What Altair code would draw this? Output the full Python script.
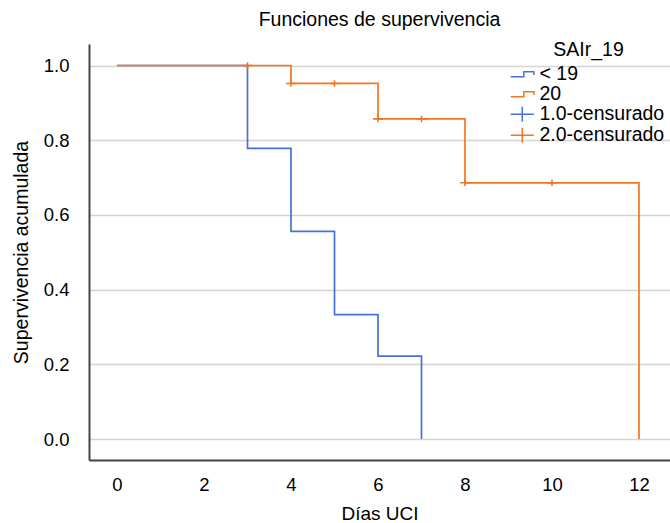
import altair as alt
import pandas as pd

# ---- data ----
legend_items = ["< 19", "20", "1.0-censurado", "2.0-censurado"]
legend_colors = ["#4472d8", "#f5761f", "#4472d8", "#f5761f"]

t_lt19 = [0, 3, 4, 5, 6, 7]
s_lt19 = [1.0, 0.778, 0.556, 0.333, 0.222, 0.0]

t_20 = [0, 4, 6, 8, 12]
s_20 = [1.0, 0.952, 0.857, 0.686, 0.0]

cens_t_20 = [3, 4, 5, 6, 7, 8, 10]
cens_s_20 = [1.0, 0.952, 0.952, 0.857, 0.857, 0.686, 0.686]

x_ticks = [0, 2, 4, 6, 8, 10, 12]
y_ticks = [0.0, 0.2, 0.4, 0.6, 0.8, 1.0]

# ---- tables ----
df_lt19 = pd.DataFrame({"t": t_lt19, "s": s_lt19, "serie": "< 19"})
df_20 = pd.DataFrame({"t": t_20, "s": s_20, "serie": "20"})
df_cens = pd.DataFrame({"t": cens_t_20, "s": cens_s_20, "serie": "2.0-censurado"})

FONT = "Liberation Sans"
step_path = "M-1.45,0.3H0.2V-0.3H1.45V0.1"
cross_path = "M-1.45,0H1.45M0,-0.95V0.95"
shape_range = [step_path, step_path, cross_path, cross_path]

x_enc = alt.X("t:Q", title="Días UCI",
              scale=alt.Scale(domain=[-0.644, 12.713], nice=False, zero=False),
              axis=alt.Axis(values=x_ticks, format="d", grid=False, ticks=False,
                            labelPadding=15, titlePadding=11, titleFontSize=19))
y_enc = alt.Y("s:Q", title="Supervivencia acumulada",
              scale=alt.Scale(domain=[-0.0562, 1.0576], nice=False, zero=False),
              axis=alt.Axis(values=y_ticks, format=".1f", grid=True, ticks=False,
                            labelPadding=20, titlePadding=12, titleFontSize=19.5))

line_lt19 = alt.Chart(df_lt19).mark_line(
    interpolate="step-after", color="#4472d8", strokeWidth=1.7
).encode(x=x_enc, y=y_enc)

line_20 = alt.Chart(df_20).mark_line(
    interpolate="step-after", color="#f5761f", strokeWidth=1.7
).encode(x=x_enc, y=y_enc)

leg = alt.Legend(orient="none", legendX=423.5, legendY=-3,
                 titleAnchor="middle", titlePadding=4,
                 symbolSize=256, symbolStrokeWidth=1.5,
                 labelOffset=7.5, rowPadding=-2, padding=0)

cens = alt.Chart(df_cens).mark_point(filled=False, size=48, strokeWidth=1.6, opacity=1).encode(
    x=x_enc, y=y_enc,
    color=alt.Color("serie:N", title="SAIr_19",
                    scale=alt.Scale(domain=legend_items, range=legend_colors),
                    legend=leg),
    shape=alt.Shape("serie:N", title="SAIr_19",
                    scale=alt.Scale(domain=legend_items, range=shape_range),
                    legend=leg),
)

chart = alt.layer(line_lt19, line_20, cens).properties(
    width=581, height=416,
    title=alt.TitleParams("Funciones de supervivencia", anchor="middle",
                          fontSize=19.5, fontWeight="normal", font=FONT,
                          color="#000000", offset=11),
    autosize=alt.AutoSizeParams(type="none"),
    padding={"left": 89, "top": 44, "right": 0, "bottom": 63},
).configure_view(stroke=None).configure_axis(
    labelFont=FONT, titleFont=FONT, labelFontSize=18.5,
    titleFontWeight="normal", labelColor="#000000", titleColor="#000000",
    domainColor="#444444", domainWidth=2, gridColor="#d4d4d4", gridWidth=1.5,
).configure_legend(
    labelFont=FONT, titleFont=FONT, labelFontSize=19.5, titleFontSize=19.5,
    titleFontWeight="normal", labelColor="#000000", titleColor="#000000",
    symbolFillColor="transparent",
)

chart.save("out.html", embed_options={"renderer": "svg", "actions": False})
